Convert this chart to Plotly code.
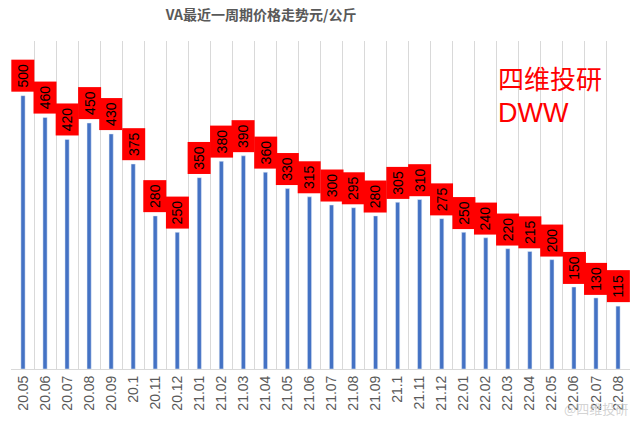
import plotly.graph_objects as go

categories = ["20.05", "20.06", "20.07", "20.08", "20.09", "20.1", "20.11", "20.12",
              "21.01", "21.02", "21.03", "21.04", "21.05", "21.06", "21.07", "21.08",
              "21.09", "21.1", "21.11", "21.12", "22.01", "22.02", "22.03", "22.04",
              "22.05", "22.06", "22.07", "22.08"]
prices = [500, 460, 420, 450, 430, 375, 280, 250, 350, 380, 390, 360, 330, 315,
          300, 295, 280, 305, 310, 275, 250, 240, 220, 215, 200, 150, 130, 115]

title_text = "VA最近一周期价格走势元/公斤"
brand_lines = ["四维投研", "DWW"]

fig = go.Figure()
fig.add_trace(go.Bar(x=categories, y=prices, marker_color="#4472C4", width=0.19,
                     hoverinfo="x+y"))

for i, v in enumerate(prices):
    fig.add_annotation(x=i, y=v, text=str(v), textangle=-90, showarrow=False,
                       xref="x", yref="y", yanchor="bottom", yshift=3,
                       bgcolor="#FF0000", width=31, height=22, borderpad=0,
                       font=dict(family="Liberation Sans, Arial", size=14, color="#000000"))

fig.add_annotation(xref="paper", yref="paper", x=0.785, y=0.829, xanchor="left", yanchor="bottom",
                   text=brand_lines[0], showarrow=False, align="left", borderpad=0,
                   font=dict(family="Noto Sans CJK SC", size=26, color="#FF0000"))
fig.add_annotation(xref="paper", yref="paper", x=0.785, y=0.829, xanchor="left", yanchor="top",
                   text=brand_lines[1], showarrow=False, align="left", borderpad=0,
                   font=dict(family="Liberation Sans, Arial", size=27, color="#FF0000"))

fig.add_annotation(xref="paper", yref="paper", x=1.0, y=-0.12, xanchor="right", yanchor="middle",
                   text="@四维投研", showarrow=False,
                   font=dict(family="Noto Sans CJK SC", size=13, color="rgba(200,200,200,0.8)"))

fig.update_layout(
    width=640, height=427,
    margin=dict(l=11, r=10, t=41, b=58),
    paper_bgcolor="white", plot_bgcolor="white",
    showlegend=False,
    title=dict(text="<b>" + title_text + "</b>", x=0.408, xanchor="center", y=0.965, yanchor="middle",
               font=dict(family="Noto Sans CJK SC", size=14, color="#595959")),
    xaxis=dict(type="category", tickangle=-90, tickson="boundaries", showgrid=True,
               gridcolor="#D9D9D9", gridwidth=1, ticks="", showline=True, linecolor="#D9D9D9",
               tickfont=dict(family="Liberation Sans, Arial", size=14, color="#595959")),
    yaxis=dict(range=[0, 600], visible=False, showgrid=False, zeroline=False),
)

fig.write_html("out.html")
